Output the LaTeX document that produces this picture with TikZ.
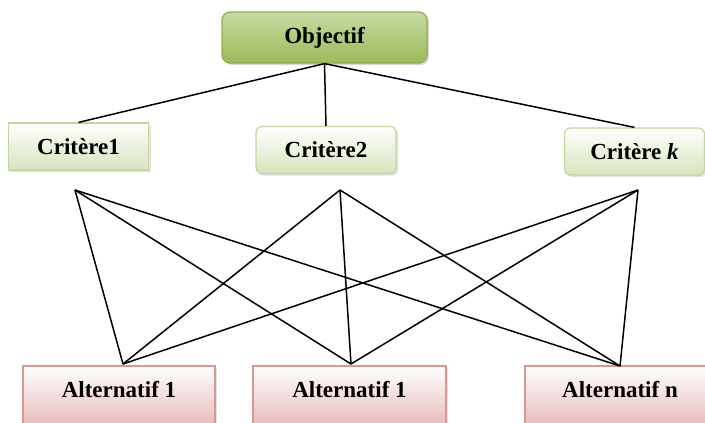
\documentclass[tikz,border=0pt]{standalone}
\usepackage{fontspec}
\setmainfont{Liberation Serif}
\usetikzlibrary{shadows}

\definecolor{objtop}{HTML}{C6DBA2}
\definecolor{objbot}{HTML}{9BBB59}
\definecolor{objline}{HTML}{8EAD52}
\definecolor{crtbot}{HTML}{D7E4BD}
\definecolor{crtline}{HTML}{C3D69B}
\definecolor{altbot}{HTML}{E6B9B8}
\definecolor{altline}{HTML}{D99694}

\begin{document}
\begin{tikzpicture}[x=1pt, y=-1pt,
        boxtext/.style={font=\fontsize{23}{27}\selectfont\bfseries, inner sep=0pt},
        objbox/.style={boxtext, draw=objline, line width=1.2pt, rounded corners=8pt,
            top color=objtop, bottom color=objbot,
            drop shadow={shadow xshift=2pt, shadow yshift=-2pt, fill=gray!60},
            minimum width=205pt, minimum height=51pt},
        critbox/.style={boxtext, draw=crtline, line width=1.2pt,
            top color=white, bottom color=crtbot,
            drop shadow={shadow xshift=2pt, shadow yshift=-2pt, fill=gray!45},
            minimum width=140pt, minimum height=47pt},
        altbox/.style={boxtext, draw=altline, line width=1.2pt,
            top color=white, bottom color=altbot,
            drop shadow={shadow xshift=2pt, shadow yshift=-2pt, fill=gray!45},
            minimum width=192pt, text height=31pt, text depth=30pt, anchor=base},
        link/.style={draw=black, line width=1.5pt}]

    \useasboundingbox (0,0) rectangle (705,423);
    \clip (0,0) rectangle (705,423);

    % hierarchy boxes
    \node[objbox] (obj) at (324.5,37.5) {Objectif};

    \node[critbox] (crit1) at (78.5,146.5) {Crit\`ere1};
    \node[critbox, rounded corners=6pt] (crit2) at (326,150) {Crit\`ere2};
    \node[critbox, rounded corners=6pt] (critk) at (634.5,151.5) {Crit\`ere \textit{k}};

    \node[altbox] (alt1) at (119,397) {Alternatif 1};
    \node[altbox, minimum width=193pt] (alt2) at (349.5,397) {Alternatif 1};
    \node[altbox, minimum width=190pt] (altn) at (620,397) {Alternatif n};

    % objective to criteria
    \draw[link] (obj.south) -- (crit1.north);
    \draw[link] (obj.south) -- (crit2.north);
    \draw[link] (obj.south) -- (critk.north);

    % criteria to alternatives
    \coordinate (c1) at (75,190);
    \coordinate (c2) at (340,190);
    \coordinate (ck) at (638,190);
    \coordinate (a1) at (123,364);
    \coordinate (a2) at (351,364);
    \coordinate (an) at (620,366);

    \foreach \c in {c1,c2,ck} {
        \foreach \a in {a1,a2,an} {
            \draw[link] (\c) -- (\a);
        }
    }

\end{tikzpicture}
\end{document}
